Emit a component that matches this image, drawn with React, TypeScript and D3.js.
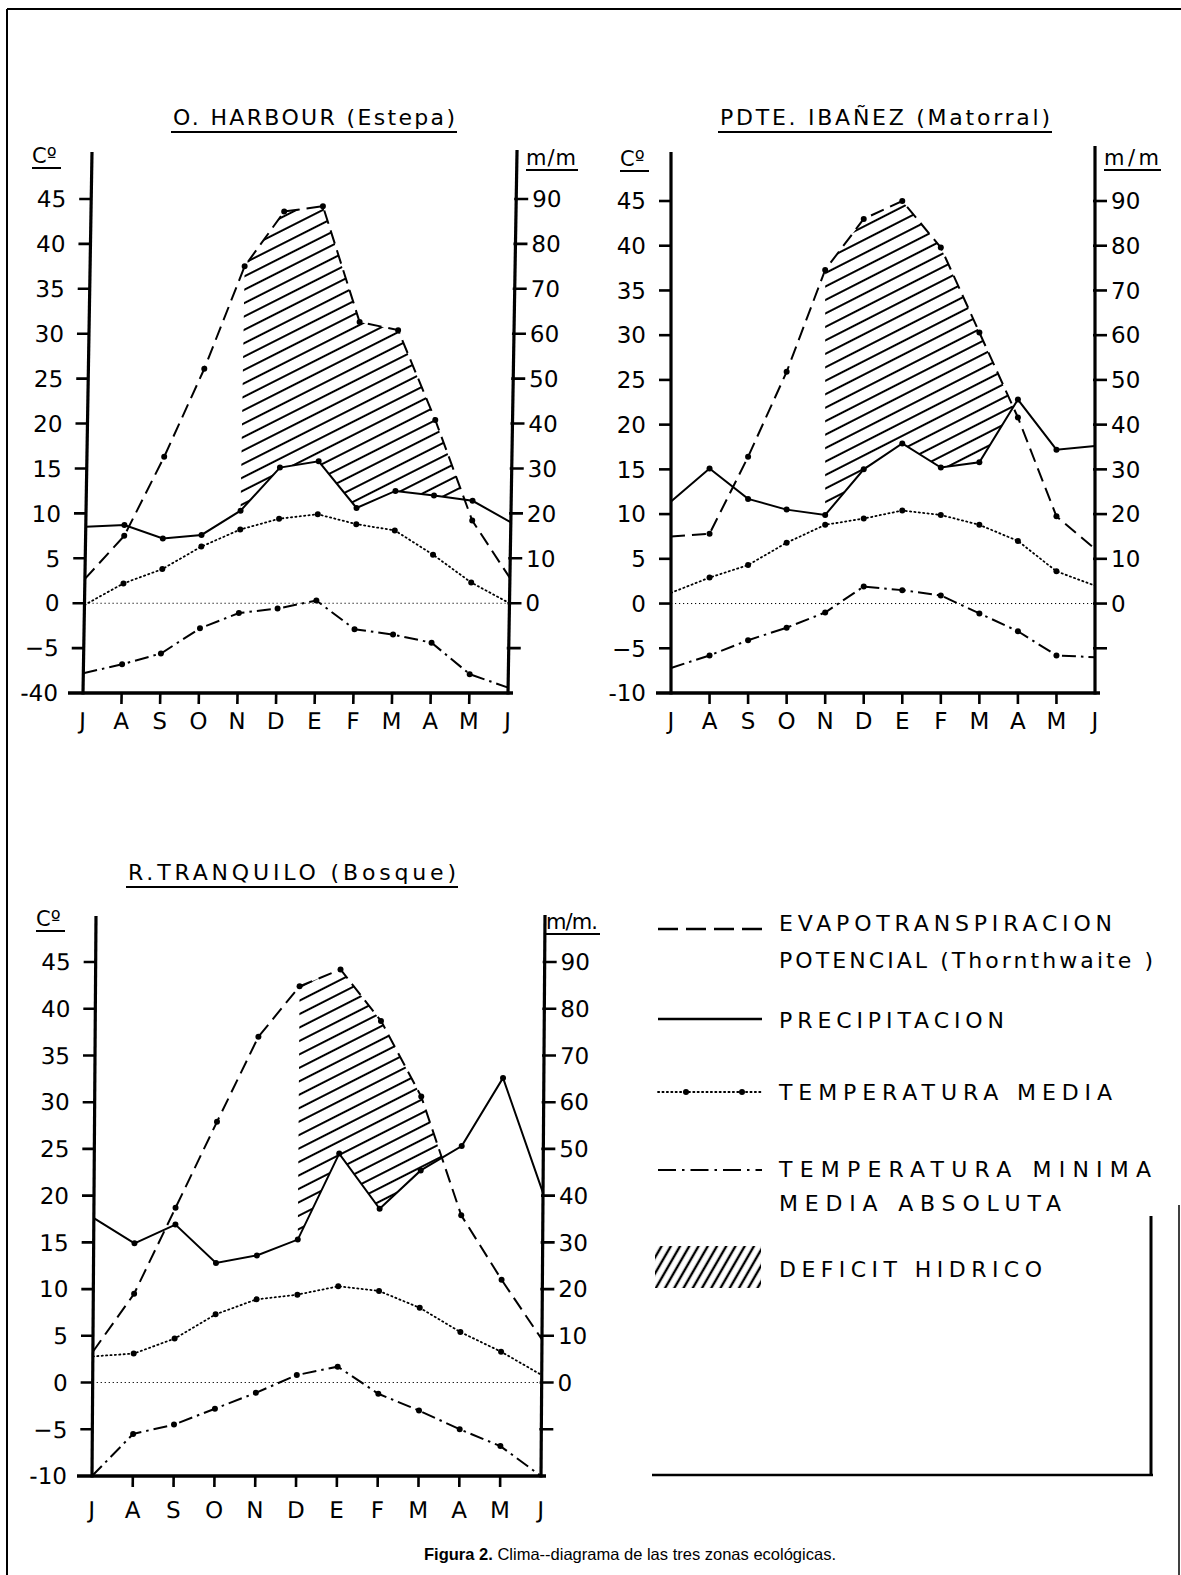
import React from "react";
import * as d3 from "d3";

const MONTHS = ["J", "A", "S", "O", "N", "D", "E", "F", "M", "A", "M", "J"];
const TEMP_TICKS = [45, 40, 35, 30, 25, 20, 15, 10, 5, 0, -5];
const TEMP_LABELS_A = ["45", "40", "35", "30", "25", "20", "15", "10", "5", "0", "−5", "-40"];
const TEMP_LABELS_B = ["45", "40", "35", "30", "25", "20", "15", "10", "5", "0", "−5", "-10"];
const MM_TICKS = [90, 80, 70, 60, 50, 40, 30, 20, 10, 0, -10];
const MM_LABELS = ["90", "80", "70", "60", "50", "40", "30", "20", "10", "0", ""];

// O. HARBOUR (Estepa)
const harbourEvap = [5.4, 15, 32.6, 52.2, 75, 87.2, 88.4, 62.6, 60.8, 40.8, 18.4, 5.6];
const harbourPrec = [17, 17.4, 14.4, 15.2, 20.6, 30.2, 31.6, 21.2, 25, 24, 22.8, 18];
const harbourTMed = [-0.2, 2.2, 3.8, 6.3, 8.2, 9.4, 9.9, 8.8, 8.1, 5.4, 2.3, 0];
const harbourTMin = [-7.8, -6.8, -5.6, -2.8, -1.1, -0.6, 0.3, -2.9, -3.5, -4.4, -7.9, -9.4];

// PDTE. IBAÑEZ (Matorral)
const ibanezEvap = [15, 15.6, 32.8, 51.8, 74.6, 86, 90, 79.6, 60.6, 41.6, 19.5, 12.2];
const ibanezPrec = [22.8, 30.2, 23.4, 21, 19.8, 30, 35.8, 30.4, 31.6, 45.6, 34.4, 35.2];
const ibanezTMed = [1.2, 2.9, 4.3, 6.8, 8.8, 9.5, 10.4, 9.9, 8.8, 7, 3.6, 2];
const ibanezTMin = [-7.2, -5.8, -4.1, -2.7, -1, 1.9, 1.5, 0.9, -1.1, -3.1, -5.8, -6];

// R. TRANQUILO (Bosque)
const tranqEvap = [6.6, 19, 37.4, 55.8, 74, 84.8, 88.4, 77.4, 61.2, 35.8, 22, 9.2];
const tranqPrec = [35.2, 29.8, 33.8, 25.6, 27.2, 30.6, 49, 37.2, 45.4, 50.6, 65.2, 40.6];
const tranqTMed = [2.8, 3.1, 4.7, 7.3, 8.9, 9.4, 10.3, 9.8, 8, 5.4, 3.3, 0.8];
const tranqTMin = [-10, -5.5, -4.5, -2.8, -1.1, 0.8, 1.7, -1.2, -3, -5, -6.8, -10];

const FONT = "'DejaVu Sans', 'Liberation Sans', sans-serif";
const DASH_ET = "14 7";
const DASH_MED = "1.2 3.2";
const DASH_MIN = "14 5 2.5 5";

type Geo = {
  xl: number; xr: number; yb: number; yt: number; skew: number;
  topL: number; topR: number; monthDy: number;
  title: string; tx: number; tw: number; ty: number;
  cx: number; cy: number; mx: number; my: number; mw: number; mlabel: string;
  labels: string[]; hatchStart: number;
};

function Panel({ g, et, pr, tmed, tmin }: { g: Geo; et: number[]; pr: number[]; tmed: number[]; tmin: number[] }) {
  const x = d3.scaleLinear().domain([0, 11]).range([g.xl, g.xr]);
  const yT = d3.scaleLinear().domain([-10, 45]).range([g.yb, g.yt]);
  const yM = d3.scaleLinear().domain([-20, 90]).range([g.yb, g.yt]);
  const lineT = d3.line<number>().x((_, i) => x(i)).y((v) => yT(v));
  const lineM = d3.line<number>().x((_, i) => x(i)).y((v) => yM(v));

  // deficit polygon: between evapotranspiration and precipitation
  const s = g.hatchStart;
  let end = 10;
  let t = 1;
  for (let i = s; i < 11; i++) {
    const d0 = et[i] - pr[i];
    const d1 = et[i + 1] - pr[i + 1];
    if (d1 <= 0) { end = i; t = d0 / (d0 - d1); break; }
  }
  const poly: [number, number][] = [];
  for (let i = s; i <= end; i++) poly.push([x(i), yM(et[i])]);
  poly.push([x(end + t), yM(et[end] + t * (et[end + 1] - et[end]))]);
  for (let i = end; i >= s; i--) poly.push([x(i), yM(pr[i])]);
  const polyPath = "M" + poly.map((p) => p.join(",")).join("L") + "Z";

  const skewDeg = (Math.atan(g.skew) * 180) / Math.PI;

  return (
    <g>
      <text x={g.tx} y={g.ty} fontSize={22} textLength={g.tw} lengthAdjust="spacing" fontFamily={FONT}>{g.title}</text>
      <line x1={g.tx - 2} x2={g.tx + g.tw + 2} y1={g.ty + 7} y2={g.ty + 7} stroke="#000" strokeWidth={2} />
      <text x={g.cx} y={g.cy} fontSize={21} fontFamily={FONT}>Cº</text>
      <line x1={g.cx} x2={g.cx + 29} y1={g.cy + 5} y2={g.cy + 5} stroke="#000" strokeWidth={2} />
      <text x={g.mx} y={g.my} fontSize={21} fontFamily={FONT} textLength={g.mw} lengthAdjust="spacing">{g.mlabel}</text>
      <line x1={g.mx} x2={g.mx + g.mw + 2} y1={g.my + 5} y2={g.my + 5} stroke="#000" strokeWidth={2} />

      <g transform={`translate(0 ${g.yb}) skewX(${skewDeg}) translate(0 ${-g.yb})`}>
        <path d={polyPath} fill="url(#hatchPanel)" stroke="none" />
        <line x1={g.xl} x2={g.xr} y1={yT(0)} y2={yT(0)} stroke="#000" strokeWidth={1} strokeDasharray="1.2 2.8" />
        <line x1={g.xl} x2={g.xl} y1={g.topL} y2={g.yb + 1.5} stroke="#000" strokeWidth={3.2} />
        <line x1={g.xr} x2={g.xr} y1={g.topR} y2={g.yb + 1.5} stroke="#000" strokeWidth={3.2} />
        <line x1={g.xl - 15} x2={g.xr + 5} y1={g.yb} y2={g.yb} stroke="#000" strokeWidth={3.4} />
        {TEMP_TICKS.map((v) => (
          <line key={"lt" + v} x1={g.xl - 12} x2={g.xl} y1={yT(v)} y2={yT(v)} stroke="#000" strokeWidth={2.6} />
        ))}
        {g.labels.map((lab, i) => (
          <text key={"ll" + i} x={g.xl - 25} y={yT(45 - i * 5)} dy="0.36em" textAnchor="end" fontSize={23} fontFamily={FONT}>{lab}</text>
        ))}
        {MM_TICKS.map((v) => (
          <line key={"rt" + v} x1={g.xr - 2} x2={g.xr + 12} y1={yM(v)} y2={yM(v)} stroke="#000" strokeWidth={2.6} />
        ))}
        {MM_TICKS.map((v, i) => (
          <text key={"rl" + v} x={g.xr + 16} y={yM(v)} dy="0.36em" fontSize={23} fontFamily={FONT}>{MM_LABELS[i]}</text>
        ))}
        {MONTHS.map((m, i) => (
          <g key={"m" + i}>
            {i > 0 && i < 11 && <line x1={x(i)} x2={x(i)} y1={g.yb} y2={g.yb + 11} stroke="#000" strokeWidth={2.6} />}
            <text x={x(i)} y={g.yb + g.monthDy} textAnchor="middle" fontSize={23} fontFamily={FONT}>{m}</text>
          </g>
        ))}

        <path d={lineM(et) || ""} fill="none" stroke="#000" strokeWidth={2} strokeDasharray={DASH_ET} />
        <path d={lineM(pr) || ""} fill="none" stroke="#000" strokeWidth={2} />
        <path d={lineT(tmed) || ""} fill="none" stroke="#000" strokeWidth={1.8} strokeDasharray={DASH_MED} strokeLinecap="round" />
        <path d={lineT(tmin) || ""} fill="none" stroke="#000" strokeWidth={2} strokeDasharray={DASH_MIN} />
        {et.map((v, i) => (i > 0 && i < 11 ? <circle key={"ce" + i} cx={x(i)} cy={yM(v)} r={3} fill="#000" /> : null))}
        {pr.map((v, i) => (i > 0 && i < 11 ? <circle key={"cp" + i} cx={x(i)} cy={yM(v)} r={3} fill="#000" /> : null))}
        {tmed.map((v, i) => (i > 0 && i < 11 ? <circle key={"cm" + i} cx={x(i)} cy={yT(v)} r={3} fill="#000" /> : null))}
        {tmin.map((v, i) => (i > 0 && i < 11 ? <circle key={"cn" + i} cx={x(i)} cy={yT(v)} r={3} fill="#000" /> : null))}
      </g>
    </g>
  );
}

const G1: Geo = {
  xl: 83, xr: 508, yb: 693, yt: 199, skew: -9 / 541, topL: 152, topR: 150, monthDy: 36,
  title: "O. HARBOUR (Estepa)", tx: 173, tw: 282, ty: 125,
  cx: 32, cy: 163, mx: 526, my: 165, mw: 50, mlabel: "m/m", labels: TEMP_LABELS_A, hatchStart: 4,
};
const G2: Geo = {
  xl: 671, xr: 1095, yb: 693, yt: 201, skew: 0, topL: 152, topR: 146, monthDy: 36,
  title: "PDTE. IBAÑEZ (Matorral)", tx: 720, tw: 330, ty: 125,
  cx: 620, cy: 166, mx: 1104, my: 165, mw: 55, mlabel: "m/m", labels: TEMP_LABELS_B, hatchStart: 4,
};
const G3: Geo = {
  xl: 92, xr: 541, yb: 1476, yt: 962, skew: -4 / 560, topL: 916, topR: 915, monthDy: 42,
  title: "R.TRANQUILO (Bosque)", tx: 128, tw: 328, ty: 880,
  cx: 36, cy: 926, mx: 546, my: 929, mw: 52, mlabel: "m/m.", labels: TEMP_LABELS_B, hatchStart: 5,
};

function Legend() {
  const lx0 = 658, lx1 = 762, tx = 779;
  return (
    <g fontFamily={FONT} fontSize={22}>
      <line x1={lx0} x2={lx1} y1={929} y2={929} stroke="#000" strokeWidth={2.4} strokeDasharray="20 8" />
      <text x={tx} y={931} textLength={333} lengthAdjust="spacing">EVAPOTRANSPIRACION</text>
      <text x={tx} y={968} textLength={374} lengthAdjust="spacing">POTENCIAL (Thornthwaite )</text>

      <line x1={lx0} x2={lx1} y1={1019} y2={1019} stroke="#000" strokeWidth={2.4} />
      <text x={tx} y={1028} textLength={225} lengthAdjust="spacing">PRECIPITACION</text>

      <line x1={lx0} x2={lx1} y1={1092} y2={1092} stroke="#000" strokeWidth={1.8} strokeDasharray={DASH_MED} strokeLinecap="round" />
      <circle cx={686} cy={1092} r={3} fill="#000" />
      <circle cx={742} cy={1092} r={3} fill="#000" />
      <text x={tx} y={1100} textLength={333} lengthAdjust="spacing">TEMPERATURA  MEDIA</text>

      <line x1={lx0} x2={lx1} y1={1170} y2={1170} stroke="#000" strokeWidth={2.2} strokeDasharray="18 6 2.5 6" />
      <text x={tx} y={1177} textLength={372} lengthAdjust="spacing">TEMPERATURA  MINIMA</text>
      <text x={tx} y={1211} textLength={282} lengthAdjust="spacing">MEDIA  ABSOLUTA</text>

      <rect x={655} y={1246} width={106} height={42} fill="url(#hatchLegend)" />
      <text x={tx} y={1277} textLength={263} lengthAdjust="spacing">DEFICIT  HIDRICO</text>

      <line x1={1151} x2={1151} y1={1216} y2={1476} stroke="#000" strokeWidth={3} />
      <line x1={652} x2={1153} y1={1475} y2={1475} stroke="#000" strokeWidth={2.6} />
    </g>
  );
}

export default function App() {
  return (
    <svg width={1181} height={1575} viewBox="0 0 1181 1575" style={{ position: "absolute", left: 0, top: 0, background: "#fff" }}>
      <defs>
        <pattern id="hatchPanel" patternUnits="userSpaceOnUse" width={24} height={12} patternTransform="rotate(-27)">
          <line x1={0} x2={24} y1={6} y2={6} stroke="#000" strokeWidth={2} />
        </pattern>
        <pattern id="hatchLegend" patternUnits="userSpaceOnUse" width={20} height={8} patternTransform="rotate(-60)">
          <line x1={0} x2={20} y1={4} y2={4} stroke="#000" strokeWidth={2.4} />
        </pattern>
      </defs>
      <rect x={0} y={0} width={1181} height={1575} fill="#fff" />
      <line x1={7} x2={1181} y1={9} y2={9} stroke="#000" strokeWidth={2} />
      <line x1={7} x2={7} y1={9} y2={1575} stroke="#000" strokeWidth={2} />
      <line x1={1179} x2={1179} y1={1205} y2={1575} stroke="#000" strokeWidth={1.5} />

      <Panel g={G1} et={harbourEvap} pr={harbourPrec} tmed={harbourTMed} tmin={harbourTMin} />
      <Panel g={G2} et={ibanezEvap} pr={ibanezPrec} tmed={ibanezTMed} tmin={ibanezTMin} />
      <Panel g={G3} et={tranqEvap} pr={tranqPrec} tmed={tranqTMed} tmin={tranqTMin} />
      <Legend />

      <text x={424} y={1560} fontFamily="'Liberation Sans', Arial, sans-serif" fontSize={16.5} textLength={412} lengthAdjust="spacingAndGlyphs">
        <tspan fontWeight="bold">Figura 2.</tspan>
        <tspan>  Clima--diagrama de las tres zonas ecológicas.</tspan>
      </text>
    </svg>
  );
}
